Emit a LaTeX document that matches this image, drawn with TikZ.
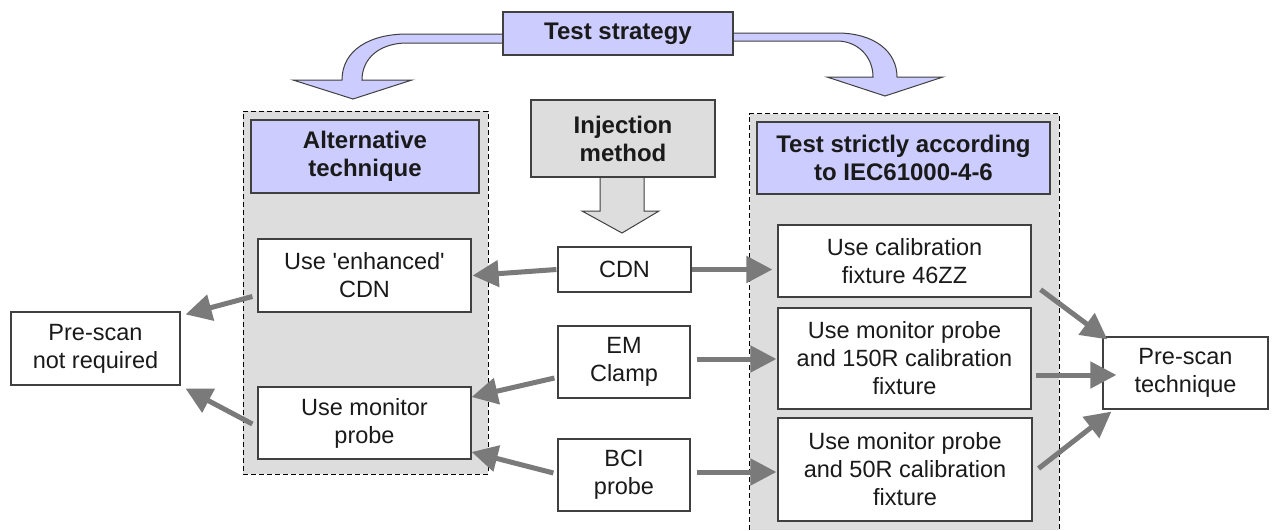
\documentclass[tikz,border=0pt]{standalone}
\usepackage{fontspec}
\setmainfont{Liberation Sans}
\usetikzlibrary{arrows.meta,calc}
\definecolor{lav}{HTML}{CCCCFF}
\definecolor{contgray}{HTML}{DDDDDD}
\definecolor{arrgray}{HTML}{7A7A7A}
\definecolor{bordc}{HTML}{404040}
\definecolor{txtc}{HTML}{1A1A1A}
\tikzset{
  txtfont/.style={font=\fontsize{23.5}{28}\selectfont},
  box/.style={draw=bordc, line width=1.2pt, fill=white, align=center, inner sep=0pt, text=txtc, txtfont},
  titlebox/.style={box, fill=lav, font=\fontsize{24}{28}\selectfont\bfseries},
  injbox/.style={box, fill=contgray, font=\fontsize{24}{28}\selectfont\bfseries},
  container/.style={fill=contgray, draw=black, line width=0.9pt, dash pattern=on 5pt off 3pt, inner sep=0pt},
  contfill/.style={fill=contgray, inner sep=0pt},
  contedge/.style={draw=black, line width=0.9pt, dash pattern=on 5pt off 3pt},
  flow/.style={draw=arrgray, line width=5pt, -{Triangle[length=26pt,width=26pt]}},
  bigarrow/.style={fill=lav, draw=bordc, line width=1pt, line join=miter},
  injarrow/.style={fill=contgray, draw=bordc, line width=1pt}
}
\begin{document}
\begin{tikzpicture}[x=1pt,y=-1pt]
\useasboundingbox[fill=white] (0,0) rectangle (1274,530);

% containers
\node[container, minimum width=245pt, minimum height=363pt] (altc) at (365.5,292.5) {};
\node[contfill, minimum width=309pt, minimum height=416pt] (strc) at (904.5,322) {};
\draw[contedge] (strc.south west) -- (strc.north west) -- (strc.north east) -- (strc.south east);

% curved arrows from the strategy box
\draw[bigarrow] (505,34) -- (407,34) .. controls (370,34) and (342,50) .. (342,80)
  -- (293,80) -- (353,99) -- (412,80) -- (362,80)
  .. controls (362,58) and (380,43) .. (407,43) -- (505,43) -- cycle;
\draw[bigarrow] (731,33) -- (837,33) .. controls (875,33) and (897,52) .. (897,77)
  -- (943,77) -- (885,96) -- (827,77) -- (873,77)
  .. controls (873,56) and (857,41) .. (837,41) -- (731,41) -- cycle;

\node[titlebox, minimum width=230pt, minimum height=43pt] (strategy) at (618,33.5) {Test strategy};

% injection method
\draw[injarrow] (600,176) -- (600,211) -- (582,211) -- (622,233) -- (659,211) -- (644,211) -- (644,176);
\node[injbox, minimum width=184pt, minimum height=77pt] (inj) at (623,138.5) {Injection\\method};

% left column
\node[titlebox, minimum width=228pt, minimum height=73pt] (alt) at (365,156.5) {Alternative\\technique};
\node[box, minimum width=213pt, minimum height=73pt] (enh) at (364.5,275.5) {Use \textquotesingle enhanced\textquotesingle\\CDN};
\node[box, minimum width=213pt, minimum height=72pt] (mon) at (364.5,423) {Use monitor\\probe};
\node[box, minimum width=169pt, minimum height=73pt] (prenot) at (95.5,348.5) {Pre-scan\\not required};

% middle column
\node[box, minimum width=133pt, minimum height=45pt] (cdn) at (624.5,269.5) {CDN};
\node[box, minimum width=132pt, minimum height=72pt] (em) at (624,362) {EM\\Clamp};
\node[box, minimum width=132pt, minimum height=72pt] (bci) at (624,475) {BCI\\probe};

% right column
\node[titlebox, minimum width=293pt, minimum height=72pt] (strict) at (903.5,158) {Test strictly according\\to IEC61000-4-6};
\node[box, minimum width=253pt, minimum height=72pt] (cal) at (904.5,261) {Use calibration\\fixture 46ZZ};
\node[box, minimum width=253pt, minimum height=101pt] (p150) at (904.5,358.5) {Use monitor probe\\and 150R calibration\\fixture};
\node[box, minimum width=254pt, minimum height=103pt] (p50) at (905,469.5) {Use monitor probe\\and 50R calibration\\fixture};
\node[box, minimum width=165pt, minimum height=72pt] (pretech) at (1185.5,373) {Pre-scan\\technique};

% connectors
\draw[flow] ([xshift=-1pt]cdn.west) -- ([xshift=1pt]enh.east);
\draw[flow] (cdn.east) -- ([xshift=-5pt]cdn.east -| cal.west);
\draw[flow] ([xshift=6pt,yshift=3pt]em.east) -- ([xshift=-1pt,yshift=3pt]em.east -| p150.west);
\draw[flow] ([xshift=6pt,yshift=3pt]bci.east) -- ([xshift=-1pt,yshift=3pt]bci.east -| p50.west);
\draw[flow] ([xshift=-3pt,yshift=-16pt]em.west) -- ([yshift=26pt]mon.east);
\draw[flow] ([xshift=-4pt,yshift=2pt]bci.west) -- ([yshift=-29pt]mon.east);
\draw[flow] ([xshift=-5pt,yshift=-21pt]enh.west) -- ([xshift=5pt,yshift=-3pt]prenot.north east);
\draw[flow] ([xshift=-5pt,yshift=-1pt]mon.west) -- ([xshift=5pt,yshift=-3pt]prenot.south east);
\draw[flow] ([xshift=9pt,yshift=8pt]cal.south east) -- ([xshift=5pt,yshift=-3pt]pretech.north west);
\draw[flow] ([xshift=4pt,yshift=-2pt]pretech.west -| p150.east) -- ([xshift=14pt,yshift=-2pt]pretech.west);
\draw[flow] ([xshift=6pt,yshift=1pt]p50.east) -- ([xshift=9pt,yshift=-2pt]pretech.south west);
\end{tikzpicture}
\end{document}
